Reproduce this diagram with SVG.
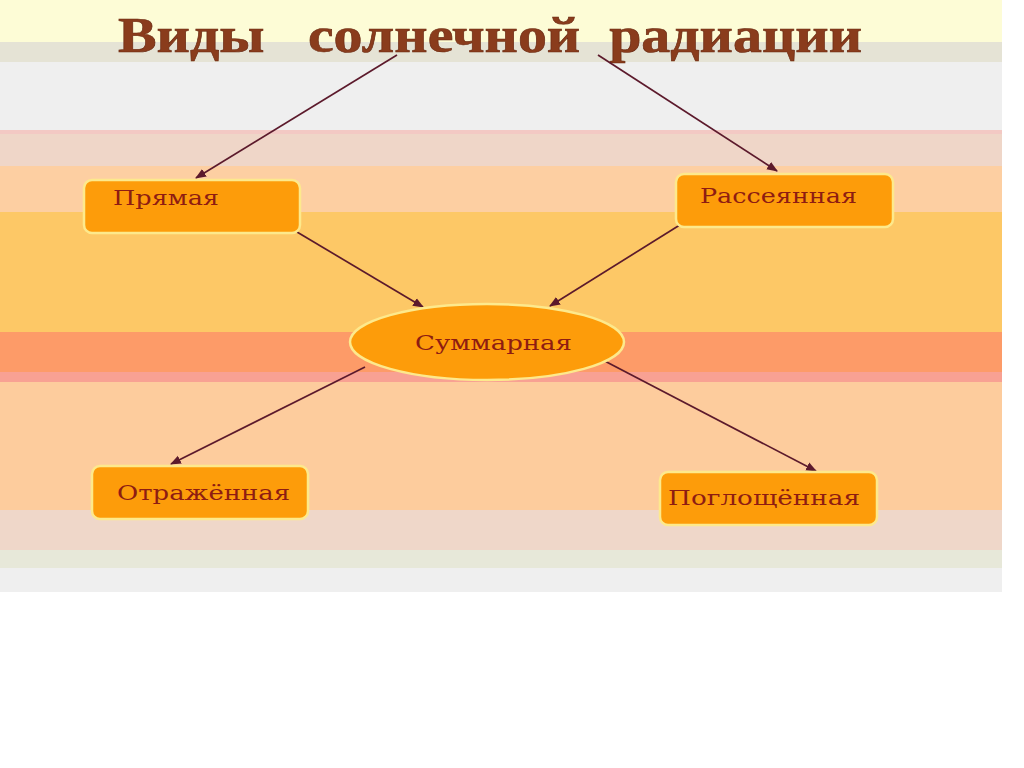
<svg xmlns="http://www.w3.org/2000/svg" width="1024" height="768" viewBox="0 0 1024 768">
<defs>
<style>
.box{fill:#fd9c0a;stroke:#fde98c;stroke-width:2.5}
.lbl{font-family:"DejaVu Serif","Liberation Serif",serif;font-size:20px;fill:#8e1c12}
.edge{stroke:#5c1a2c;stroke-width:1.7;fill:none;marker-end:url(#ah)}
</style>
<marker id="ah" viewBox="0 0 10 10" refX="9" refY="5" markerWidth="11" markerHeight="11" markerUnits="userSpaceOnUse" orient="auto">
<path d="M0,1 L10,5 L0,9 z" fill="#5c1a2c"/>
</marker>
</defs>
<rect width="1024" height="768" fill="#ffffff"/>
<g id="background">
<rect x="0" y="0" width="1002" height="42" fill="#fdfcd6"/>
<rect x="0" y="42" width="1002" height="20" fill="#e5e3d5"/>
<rect x="0" y="62" width="1002" height="68" fill="#efefef"/>
<rect x="0" y="130" width="1002" height="4" fill="#f3c9c4"/>
<rect x="0" y="134" width="1002" height="32" fill="#efd6c8"/>
<rect x="0" y="166" width="1002" height="46" fill="#fdcfa2"/>
<rect x="0" y="212" width="1002" height="120" fill="#fdc866"/>
<rect x="0" y="332" width="1002" height="40" fill="#fd9b68"/>
<rect x="0" y="372" width="1002" height="10" fill="#f8a193"/>
<rect x="0" y="382" width="1002" height="128" fill="#fdcc9d"/>
<rect x="0" y="510" width="1002" height="40" fill="#efd7c9"/>
<rect x="0" y="550" width="1002" height="18" fill="#e7e8d9"/>
<rect x="0" y="568" width="1002" height="24" fill="#efefef"/>
</g>
<g id="title">
<text x="118" y="52" textLength="744" lengthAdjust="spacingAndGlyphs" font-family="'Liberation Serif',serif" font-weight="bold" font-size="50" fill="#8a3c1c" stroke="#6a2a12" stroke-width="0.6" xml:space="preserve">Виды   солнечной  радиации</text>
</g>
<g id="connectors">
<line class="edge" x1="397" y1="55" x2="196" y2="178"/>
<line class="edge" x1="598" y1="55" x2="777" y2="171"/>
<line class="edge" x1="297" y1="232" x2="423" y2="307"/>
<line class="edge" x1="683" y1="223" x2="550" y2="306"/>
<line class="edge" x1="365" y1="367" x2="171" y2="464"/>
<line class="edge" x1="597" y1="357" x2="816" y2="471"/>
</g>
<g id="node-pryamaya">
<rect class="box" x="84" y="180" width="216" height="53" rx="8"/>
<text class="lbl" x="113" y="205" textLength="106" lengthAdjust="spacingAndGlyphs">Прямая</text>
</g>
<g id="node-rasseyannaya">
<rect class="box" x="676" y="174" width="217" height="53" rx="8"/>
<text class="lbl" x="700" y="203" textLength="157" lengthAdjust="spacingAndGlyphs">Рассеянная</text>
</g>
<g id="node-summarnaya">
<ellipse class="box" cx="487" cy="342" rx="137" ry="38"/>
<text class="lbl" x="415" y="350" textLength="157" lengthAdjust="spacingAndGlyphs">Суммарная</text>
</g>
<g id="node-otrazhennaya">
<rect class="box" x="92" y="466" width="216" height="53" rx="8"/>
<text class="lbl" x="117" y="500" textLength="173" lengthAdjust="spacingAndGlyphs" fill="#a8281a">Отражённая</text>
</g>
<g id="node-pogloschennaya">
<rect class="box" x="660" y="472" width="217" height="53" rx="8"/>
<text class="lbl" x="668" y="505" textLength="192" lengthAdjust="spacingAndGlyphs">Поглощённая</text>
</g>
</svg>
